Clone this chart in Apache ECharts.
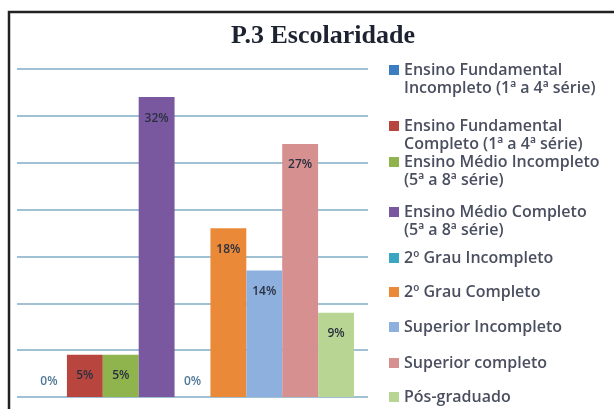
<!DOCTYPE html>
<html>
<head>
<meta charset="utf-8">
<script src="https://cdn.jsdelivr.net/npm/echarts@6/dist/echarts.min.js"></script>
<style>
  html, body { margin: 0; padding: 0; background: #ffffff; }
  #chart { width: 614px; height: 409px; }
</style>
</head>
<body>
<div id="chart"></div>
<script>
// one category, nine series (Excel style clustered bars)
var categories = ['P.3'];
var seriesNames = [
  'Ensino Fundamental\nIncompleto (1ª a 4ª série)',
  'Ensino Fundamental\nCompleto (1ª a 4ª série)',
  'Ensino Médio Incompleto\n(5ª a 8ª série)',
  'Ensino Médio Completo\n(5ª a 8ª série)',
  '2º Grau Incompleto',
  '2º Grau Completo',
  'Superior Incompleto',
  'Superior completo',
  'Pós-graduado'
];
var values = [0, 4.5, 4.5, 32, 0, 18, 13.5, 27, 9];
var colors = ['#3c7cc0', '#b8463f', '#8fb44e', '#7a58a0', '#3aa6c2', '#ea8a38', '#8eb0de', '#d6908f', '#b9d593'];

// first-line centre of each legend entry
var legendY = [70, 126, 162, 212, 258, 292, 327, 363, 397];

var chart = echarts.init(document.getElementById('chart'));

var series = [];
var legends = [];
for (var i = 0; i < seriesNames.length; i++) {
  var zero = values[i] === 0;
  series.push({
    name: seriesNames[i],
    type: 'bar',
    data: [values[i]],
    barGap: '0%',
    barCategoryGap: '8%',
    itemStyle: { color: colors[i] },
    label: {
      show: true,
      position: zero ? 'top' : 'insideTop',
      distance: zero ? 9 : 15,
      formatter: function (p) { return Math.round(p.value) + '%'; },
      color: zero ? '#4f7896' : '#2a3040',
      fontFamily: 'Open Sans',
      fontSize: 12,
      fontWeight: 600
    }
  });
  var twoLines = seriesNames[i].indexOf('\n') >= 0;
  legends.push({
    data: [seriesNames[i]],
    left: 389,
    top: twoLines ? legendY[i] - 27 : legendY[i] - 9,
    padding: 0,
    icon: 'rect',
    itemWidth: 10,
    itemHeight: 10,
    selectedMode: false,
    // blank first line keeps the icon level with the first text line
    formatter: twoLines ? function (name) { return '\n' + name; } : null,
    textStyle: {
      fontFamily: 'Open Sans',
      fontSize: 16,
      fontWeight: 600,
      color: '#4a4f60',
      lineHeight: 18
    }
  });
}

var option = {
  animation: false,
  backgroundColor: '#ffffff',
  title: {
    text: 'P.3 Escolaridade',
    left: 231,
    top: 23,
    padding: 0,
    textStyle: {
      fontFamily: 'Liberation Serif',
      fontSize: 26,
      fontWeight: 'bold',
      color: '#1c2230'
    }
  },
  legend: legends,
  grid: { left: 17, right: 246, top: 69, bottom: 12 },
  xAxis: {
    type: 'category',
    data: categories,
    axisLine: { show: false },
    axisTick: { show: false },
    axisLabel: { show: false }
  },
  yAxis: {
    type: 'value',
    min: 0,
    max: 35,
    interval: 5,
    axisLabel: { show: false },
    axisLine: { show: false },
    axisTick: { show: false },
    splitLine: { lineStyle: { color: '#a0c0d4', width: 2 } }
  },
  graphic: [{
    type: 'rect',
    shape: { x: 9, y: 12, width: 640, height: 440 },
    style: { fill: 'none', stroke: '#222222', lineWidth: 2.5 },
    silent: true
  }],
  series: series
};

chart.setOption(option);
</script>
</body>
</html>
